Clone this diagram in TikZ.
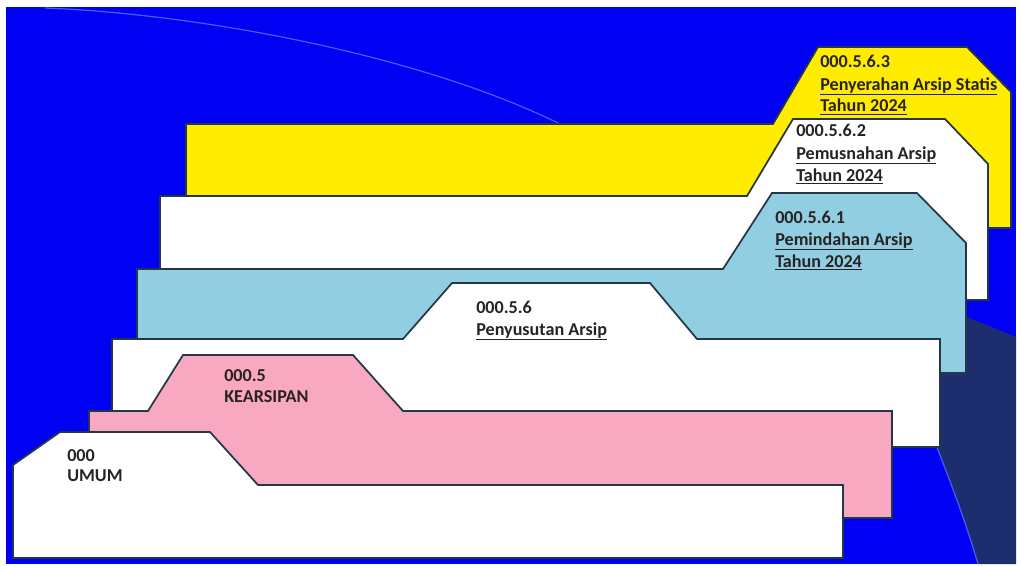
\documentclass[tikz,border=0pt]{standalone}
\usepackage{fontspec}
\setmainfont{Carlito}
\definecolor{bgblue}{RGB}{0,0,242}
\definecolor{navy}{RGB}{30,45,110}
\definecolor{yel}{RGB}{255,236,0}
\definecolor{lblue}{RGB}{146,206,226}
\definecolor{pinkc}{RGB}{248,168,192}
\definecolor{edge}{RGB}{35,55,70}
\definecolor{txt}{RGB}{40,35,35}
\definecolor{arcline}{RGB}{70,95,250}
\begin{document}
\begin{tikzpicture}[x=0.75pt,y=-0.75pt,
  tab/.style={draw=edge, line width=1.3pt, line join=miter},
  lbl/.style={anchor=base west, inner sep=0pt, font=\fontsize{13.6}{15}\selectfont\bfseries, text=txt}]
\useasboundingbox (0,0) rectangle (1021,567);
\fill[white] (0,0) rectangle (1021,567);
\fill[bgblue] (6,7) rectangle (1016,564);
% dark background region on the right
\fill[navy] (925,300) -- (1016,337) -- (1016,564) -- (978,564)
  .. controls (965,520) and (950,480) .. (930,430) -- cycle;
\draw[arcline, line width=0.9pt] (978,564) .. controls (965,520) and (950,480) .. (930,430);
\draw[arcline, line width=0.9pt] (45,8) .. controls (200,14) and (420,55) .. (560,124);

% layers, back to front
\path[tab, fill=yel] (186,124) -- (773,124) -- (818,47) -- (967,47) -- (1011,92) -- (1011,228) -- (186,228) -- cycle;
\begin{scope}
  \clip (186,124) -- (773,124) -- (818,47) -- (967,47) -- (1011,92) -- (1011,228) -- (186,228) -- cycle;
  \node[lbl] (y1) at (820,68) {000.5.6.3};
  \node[lbl] (y2) at (820,90) {\underline{Penyerahan Arsip Statis}};
  \node[lbl] (y3) at (820,112) {\underline{Tahun 2024}};
\end{scope}

\path[tab, fill=white] (160,196) -- (747,196) -- (793,119) -- (945,119) -- (988,164) -- (988,300) -- (160,300) -- cycle;
\node[lbl] (w1) at (796,137) {000.5.6.2};
\node[lbl] (w2) at (796,159) {\underline{Pemusnahan Arsip}};
\node[lbl] (w3) at (796,181) {\underline{Tahun 2024}};

\path[tab, fill=lblue] (137,269) -- (723,269) -- (772,193) -- (917,193) -- (966,243) -- (966,373) -- (137,373) -- cycle;
\node[lbl] (b1) at (775,223) {000.5.6.1};
\node[lbl] (b2) at (775,245) {\underline{Pemindahan Arsip}};
\node[lbl] (b3) at (775,267) {\underline{Tahun 2024}};

\path[tab, fill=white] (112,339) -- (403,339) -- (452,283) -- (650,283) -- (697,339) -- (940,339) -- (940,447) -- (112,447) -- cycle;
\node[lbl] (p1) at (476,313) {000.5.6};
\node[lbl] (p2) at (476,335) {\underline{Penyusutan Arsip}};

\path[tab, fill=pinkc] (89,411) -- (148,411) -- (183,355) -- (353,355) -- (403,411) -- (892,411) -- (892,518) -- (89,518) -- cycle;
\node[lbl] (k1) at (224,381) {000.5};
\node[lbl] (k2) at (224,402) {KEARSIPAN};

\path[tab, fill=white] (13,465) -- (60,432) -- (210,432) -- (258,485) -- (843,485) -- (843,558) -- (13,558) -- cycle;
\node[lbl] (u1) at (67,461) {000};
\node[lbl] (u2) at (67,481) {UMUM};
\end{tikzpicture}
\end{document}
